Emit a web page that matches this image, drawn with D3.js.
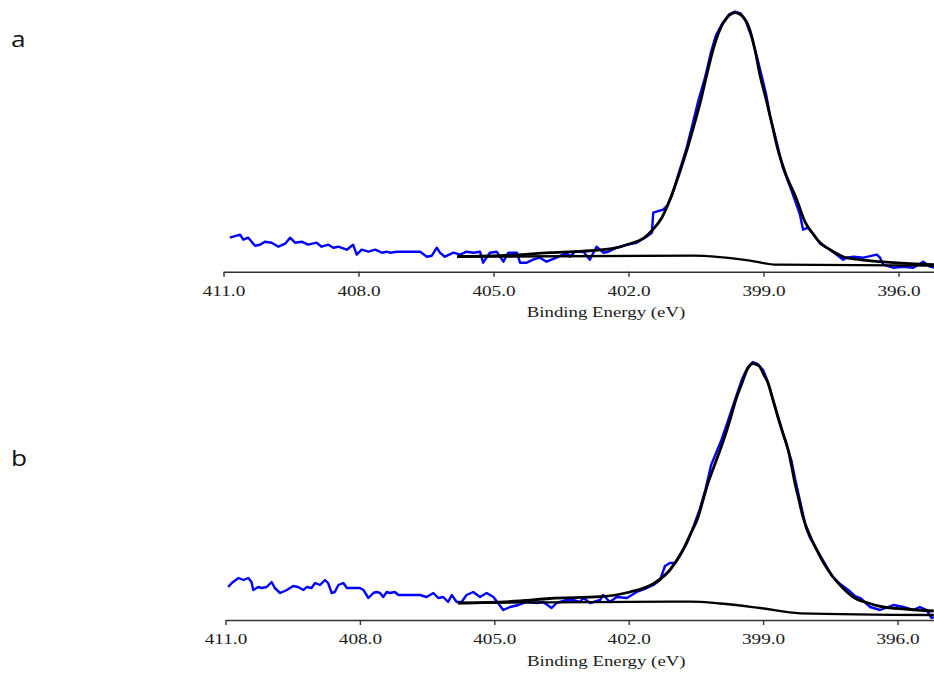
<!DOCTYPE html>
<html>
<head>
<meta charset="utf-8">
<script src="https://cdn.jsdelivr.net/npm/d3@7"></script>
<style>
  body { margin: 0; background: #fff; }
  svg { display: block; }
</style>
</head>
<body>
<script>
// binding energy ticks shown on both panels
var tickValues = [411, 408, 405, 402, 399, 396];
var axisDomain = [411, 394];
var panelNames = ["a", "b"];

// panel a: measured spectrum [BE (eV), intensity]
var spectrumA = [
  [410.86,34],[410.63,37],[410.56,32],[410.45,34],[410.30,26],[410.19,27],[410.08,30],[409.93,29],
  [409.78,25],[409.63,28],[409.52,34],[409.41,29],[409.26,30],[409.12,27],[408.93,29],[408.82,25],
  [408.67,27],[408.56,24],[408.45,25],[408.26,22],[408.12,27],[408.04,17],[407.93,22],[407.78,20],
  [407.63,22],[407.48,19],[407.37,20],[407.30,19],[407.15,20],[406.63,20],[406.48,15],[406.37,16],
  [406.26,24],[406.19,19],[406.08,15],[405.89,19],[405.74,17],[405.60,20],[405.45,19],[405.30,20],
  [405.23,9],[405.08,19],[404.93,20],[404.78,10],[404.67,19],[404.48,19],[404.41,9],[404.26,9],
  [404.12,12],[403.97,14],[403.82,10],[403.60,14],[403.37,19],[403.30,15],[403.19,20],[403.00,20],
  [402.86,12],[402.71,25],[402.56,19],[402.45,20],[402.26,24],[402.04,27],[401.82,29],[401.60,35],
  [401.48,39],[401.45,59],[401.23,62],[401.14,66],[401.03,77],[400.88,99],[400.72,122],[400.59,145],
  [400.46,169],[400.30,194],[400.17,219],[400.06,236],[399.92,248],[399.77,257],[399.63,260],[399.50,258],
  [399.39,250],[399.26,234],[399.14,214],[399.03,194],[398.94,177],[398.86,157],[398.72,132],[398.57,104],
  [398.37,80],[398.19,57],[398.12,42],[398.01,44],[397.88,37],[397.74,28],[397.52,22],[397.23,12],
  [397.15,14],[397.00,15],[396.78,14],[396.48,17],[396.41,14],[396.34,7],[396.12,4],[395.89,5],
  [395.67,4],[395.45,10],[395.30,5],[395.21,4]
];
// panel a: fitted envelope and Shirley background
var envelopeA = [
  [405.81,15],[404.86,16],[403.74,19],[403.01,20.5],[402.26,24],[401.97,28],[401.68,33],[401.46,42],
  [401.26,54],[401.08,72],[400.88,97],[400.70,122],[400.54,147],[400.39,172],[400.26,197],[400.12,222],
  [399.97,242],[399.81,254],[399.63,259],[399.48,256],[399.32,244],[399.19,222],[399.08,197],[398.94,172],
  [398.81,147],[398.68,122],[398.50,97],[398.26,72],[398.08,50],[397.92,39],[397.74,29],[397.52,22],
  [397.23,15],[396.86,12],[396.41,10],[395.74,8],[395.21,7]
];
var backgroundA = [
  [405.81,15],[400.57,16],[399.97,14.5],[399.30,11],[398.70,7],[395.21,6]
];

// panel b
var spectrumB = [
  [410.94,33],[410.86,37],[410.71,42],[410.60,40],[410.49,42],[410.42,38],[410.38,30],[410.27,33],
  [410.19,32],[410.08,33],[409.97,38],[409.90,32],[409.78,27],[409.63,30],[409.49,34],[409.38,33],
  [409.26,30],[409.19,33],[409.08,32],[409.00,37],[408.89,35],[408.78,40],[408.71,37],[408.63,27],
  [408.56,28],[408.48,35],[408.37,37],[408.29,32],[408.15,32],[408.00,32],[407.92,30],[407.81,22],
  [407.70,27],[407.63,28],[407.55,27],[407.48,23],[407.40,28],[407.33,27],[407.22,28],[407.14,25],
  [407.03,25],[406.66,25],[406.51,23],[406.36,27],[406.25,22],[406.14,23],[406.03,18],[405.95,25],
  [405.84,18],[405.73,18],[405.62,25],[405.47,28],[405.32,23],[405.17,27],[405.02,23],[404.80,10],
  [404.65,13],[404.46,15],[404.28,18],[404.05,17],[403.91,18],[403.72,12],[403.61,17],[403.38,20],
  [403.24,20],[403.09,18],[403.01,22],[402.86,17],[402.64,20],[402.57,25],[402.42,18],[402.27,23],
  [402.04,22],[401.82,28],[401.64,31],[401.45,35],[401.30,40],[401.19,54],[401.08,57],[400.97,57],
  [400.86,64],[400.70,77],[400.55,94],[400.42,110],[400.29,130],[400.16,155],[400.04,168],[399.93,180],
  [399.80,197],[399.68,213],[399.57,228],[399.46,242],[399.35,252],[399.23,258],[399.12,256],[399.00,250],
  [398.91,240],[398.82,227],[398.71,210],[398.60,193],[398.49,177],[398.37,160],[398.29,142],[398.20,124],
  [398.11,106],[398.04,92],[397.95,82],[397.80,70],[397.64,58],[397.46,44],[397.28,36],[397.10,30],
  [396.95,24],[396.83,22],[396.61,13],[396.39,10],[396.09,15],[395.87,13],[395.65,10],[395.50,13],
  [395.35,10],[395.24,2],[395.19,3]
];
var envelopeB = [
  [405.81,17],[404.43,19],[403.76,21.5],[402.64,23.3],[401.97,28],[401.46,36],[401.08,50],[400.79,70],
  [400.61,87],[400.45,103],[400.34,120],[400.23,137],[400.10,153],[399.96,170],[399.83,187],[399.72,203],
  [399.61,220],[399.47,237],[399.36,250],[399.23,256.5],[399.09,254],[398.98,245],[398.89,237],[398.78,220],
  [398.67,203],[398.56,187],[398.44,170],[398.36,153],[398.29,137],[398.20,120],[398.11,103],[397.98,87],
  [397.80,70],[397.62,55],[397.44,43],[397.22,32],[396.99,23],[396.66,17],[396.32,13],[395.83,11],[395.19,9]
];
var backgroundB = [
  [405.81,17],[400.63,18.3],[399.96,16.5],[399.07,12],[398.17,6.7],[395.19,5]
];

var width = 934, height = 674;

var svg = d3.select("body")
    .append("svg")
    .attr("width", width)
    .attr("height", height);

var panels = [
    { name: panelNames[0], labelY: 47, axisY: 271.7, x0: 223.5, pxPerEV: 45,
      spectrum: spectrumA, envelope: envelopeA, background: backgroundA },
    { name: panelNames[1], labelY: 466, axisY: 620, x0: 225.5, pxPerEV: 44.8,
      spectrum: spectrumB, envelope: envelopeB, background: backgroundB }
];

panels.forEach(function(p) {
    var x = d3.scaleLinear()
        .domain(axisDomain)
        .range([p.x0, p.x0 + (axisDomain[0] - axisDomain[1]) * p.pxPerEV]);
    var y = d3.scaleLinear()
        .domain([0, 260])
        .range([p.axisY, p.axisY - 260]);

    var g = svg.append("g");

    // panel letter
    svg.append("text")
        .attr("transform", "translate(11," + p.labelY + ") scale(1.25,1)")
        .attr("font-family", "'Open Sans', sans-serif")
        .attr("font-size", 21)
        .attr("fill", "#111")
        .text(p.name);

    var axis = d3.axisBottom(x)
        .tickValues(tickValues)
        .tickFormat(d3.format(".1f"))
        .tickSize(5)
        .tickSizeOuter(0);

    var ax = g.append("g")
        .attr("transform", "translate(0," + p.axisY + ")")
        .call(axis);
    ax.select(".domain").attr("stroke", "#333").attr("stroke-width", 1.6);
    ax.selectAll(".tick line").attr("stroke", "#333").attr("stroke-width", 1.4);
    ax.selectAll(".tick text")
        .attr("y", 24)
        .attr("dy", null)
        .attr("transform", "scale(1.28,1)")
        .attr("font-family", "'Liberation Serif', 'Times New Roman', serif")
        .attr("font-size", 15)
        .attr("fill", "#1a1a1a");

    g.append("text")
        .attr("transform", "translate(" + x((axisDomain[0] + axisDomain[1]) / 2) + "," + (p.axisY + 45.5) + ") scale(1.3,1)")
        .attr("text-anchor", "middle")
        .attr("font-family", "'Liberation Serif', 'Times New Roman', serif")
        .attr("font-size", 14.5)
        .attr("fill", "#1a1a1a")
        .text("Binding Energy (eV)");

    var rawLine = d3.line()
        .x(function(d) { return x(d[0]); })
        .y(function(d) { return y(d[1]); });
    var fitLine = d3.line()
        .curve(d3.curveMonotoneX)
        .x(function(d) { return x(d[0]); })
        .y(function(d) { return y(d[1]); });

    g.append("path")
        .datum(p.spectrum)
        .attr("fill", "none")
        .attr("stroke", "#0000ff")
        .attr("stroke-width", 2.4)
        .attr("stroke-linejoin", "round")
        .attr("d", rawLine);

    g.append("path")
        .datum(p.background)
        .attr("fill", "none")
        .attr("stroke", "#000")
        .attr("stroke-width", 2.3)
        .attr("d", fitLine);

    g.append("path")
        .datum(p.envelope)
        .attr("fill", "none")
        .attr("stroke", "#000")
        .attr("stroke-width", 2.8)
        .attr("d", fitLine);
});
</script>
</body>
</html>
